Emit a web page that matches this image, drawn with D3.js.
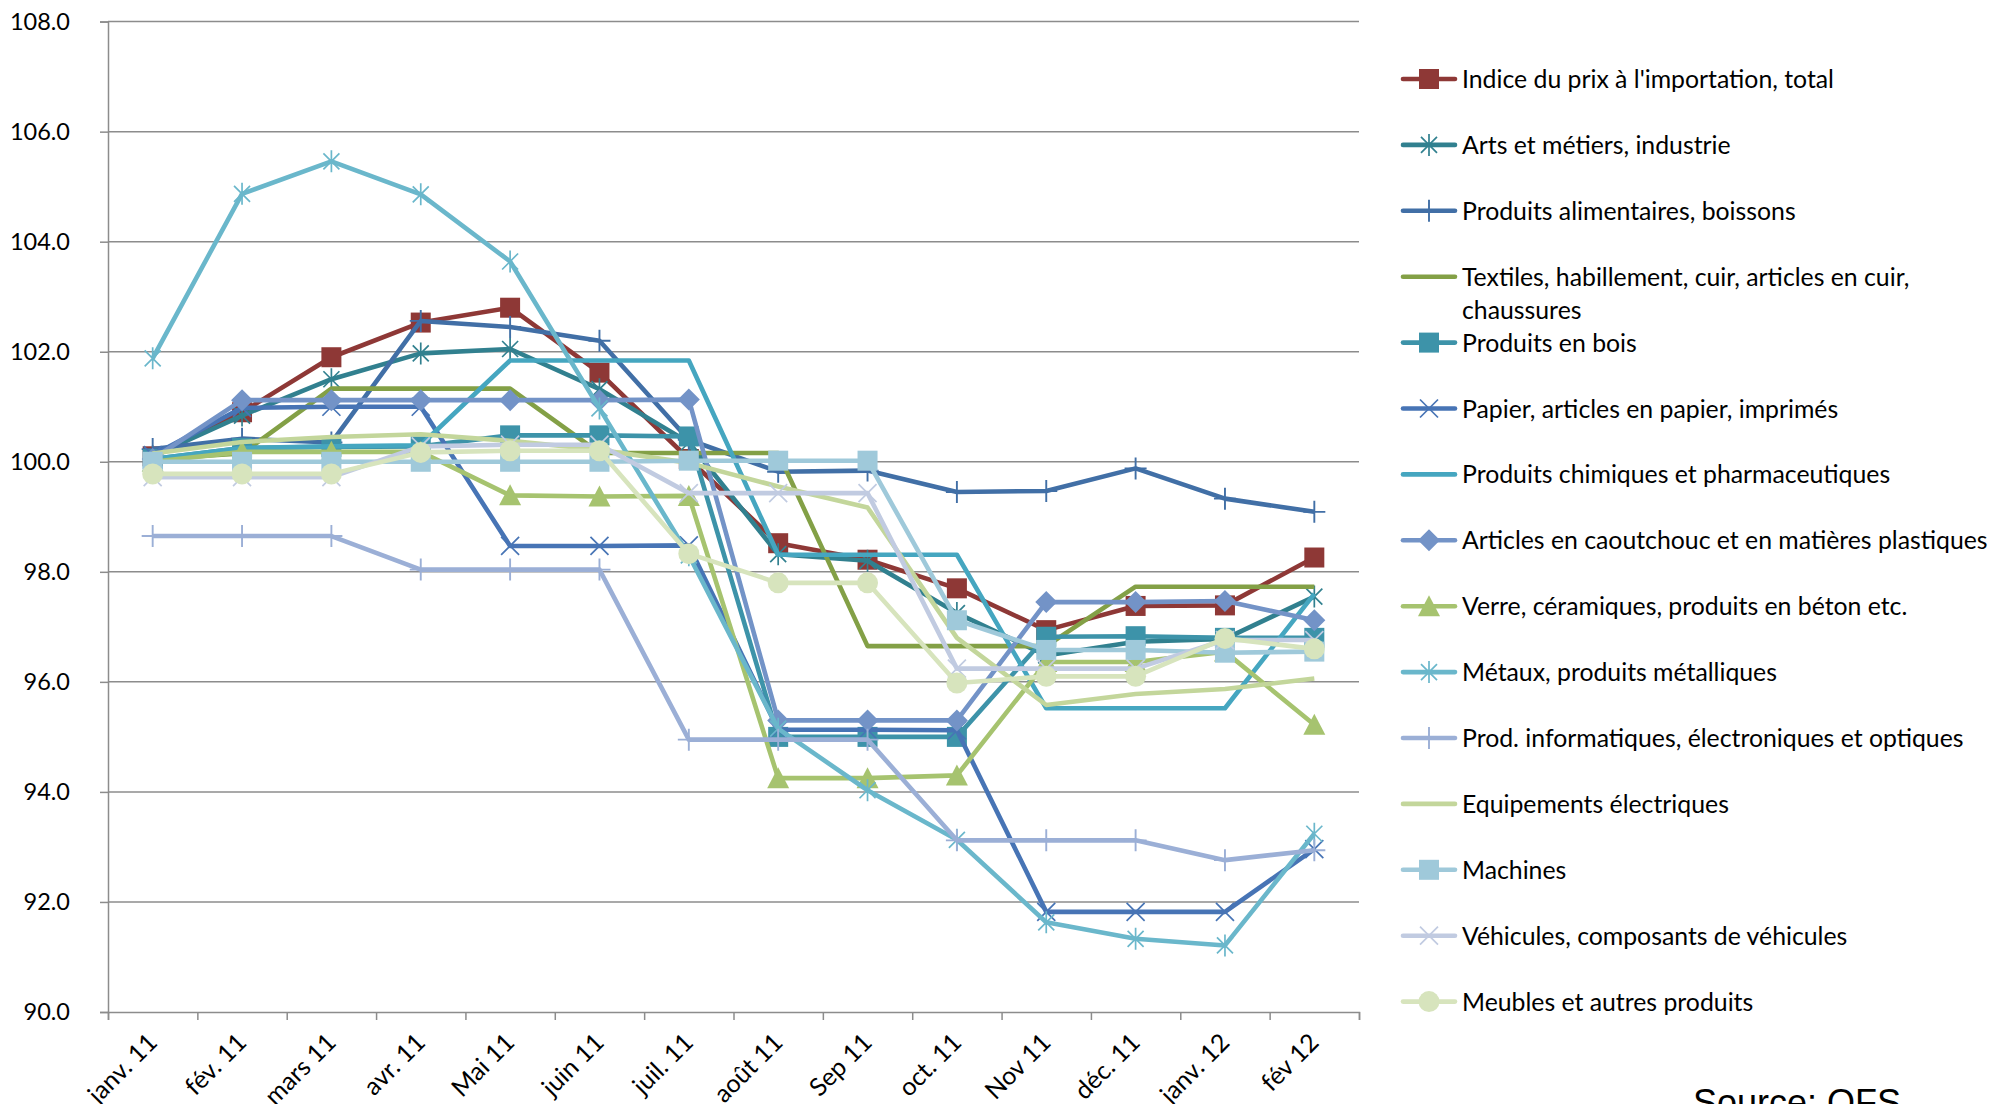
<!DOCTYPE html>
<html>

<head>
    <title>Indice du prix à l'importation</title>
    <style>
        * {
            margin: 0;
            padding: 0;
        }

        body {
            background-color: #fff;
        }

        #root {
            width: 1991px;
            height: 1104px;
            overflow: hidden;
        }

        .axis text, .legend text {
            font-family: Lato, "Noto Sans", sans-serif;
            fill: #000;
        }
    </style>
    <script src="https://cdn.jsdelivr.net/npm/d3@7/dist/d3.min.js" type="text/javascript"></script>
</head>

<body>
    <div id="root"></div>

    <script>
        var months = ["janv. 11", "fév. 11", "mars 11", "avr. 11", "Mai 11", "juin 11", "juil. 11",
            "août 11", "Sep 11", "oct. 11", "Nov 11", "déc. 11", "janv. 12", "fév 12"];

        var yTicks = [90, 92, 94, 96, 98, 100, 102, 104, 106, 108];

        var seriesNames = [
            "Indice du prix à l'importation, total",
            "Arts et métiers, industrie",
            "Produits alimentaires, boissons",
            "Textiles, habillement, cuir, articles en cuir, chaussures",
            "Produits en bois",
            "Papier, articles en papier, imprimés",
            "Produits chimiques et pharmaceutiques",
            "Articles en caoutchouc et en matières plastiques",
            "Verre, céramiques, produits en béton etc.",
            "Métaux, produits métalliques",
            "Prod. informatiques, électroniques et optiques",
            "Equipements électriques",
            "Machines",
            "Véhicules, composants de véhicules",
            "Meubles et autres produits"
        ];

        var indice = [100.1, 100.9, 101.9, 102.53, 102.8, 101.62, 100.05, 98.52, 98.22, 97.7, 96.94, 97.38, 97.39, 98.26];
        var arts = [100.1, 100.84, 101.5, 101.97, 102.05, 101.32, 100.35, 98.32, 98.2, 97.25, 96.48, 96.73, 96.78, 97.55];
        var alimentaires = [100.23, 100.42, 100.35, 102.56, 102.45, 102.2, 100.4, 99.82, 99.84, 99.45, 99.47, 99.88, 99.33, 99.09];
        var textiles = [100.05, 100.15, 101.33, 101.33, 101.33, 100.16, 100.16, 100.16, 96.65, 96.65, 96.65, 97.73, 97.73, 97.73];
        var bois = [100.05, 100.25, 100.27, 100.28, 100.48, 100.48, 100.46, 95.0, 95.0, 95.0, 96.82, 96.83, 96.8, 96.8];
        var papier = [100.12, 100.98, 101.0, 101.0, 98.47, 98.47, 98.48, 95.13, 95.13, 95.12, 91.82, 91.82, 91.82, 92.96];
        var chimiques = [100.05, 100.25, 100.28, 100.3, 101.84, 101.84, 101.84, 98.31, 98.31, 98.31, 95.52, 95.52, 95.52, 97.6];
        var caoutchouc = [100.05, 101.12, 101.12, 101.12, 101.12, 101.12, 101.13, 95.3, 95.3, 95.3, 97.45, 97.45, 97.47, 97.12];
        var verre = [100.0, 100.18, 100.18, 100.18, 99.39, 99.37, 99.38, 94.25, 94.25, 94.3, 96.36, 96.36, 96.55, 95.22];
        var metaux = [101.88, 104.87, 105.46, 104.86, 103.64, 100.97, 98.3, 95.15, 94.03, 93.13, 91.63, 91.33, 91.21, 93.24];
        var prodInfo = [98.65, 98.65, 98.65, 98.04, 98.04, 98.04, 94.95, 94.95, 94.95, 93.12, 93.12, 93.12, 92.76, 92.94];
        var equipements = [100.15, 100.36, 100.45, 100.5, 100.38, 100.22, 99.98, 99.55, 99.17, 96.8, 95.58, 95.78, 95.87, 96.06];
        var machines = [100.0, 100.0, 100.0, 100.0, 100.0, 100.0, 100.02, 100.02, 100.02, 97.12, 96.58, 96.58, 96.53, 96.55];
        var vehicules = [99.72, 99.72, 99.72, 100.28, 100.31, 100.31, 99.43, 99.43, 99.43, 96.24, 96.24, 96.24, 96.76, 96.76];
        var meubles = [99.78, 99.78, 99.78, 100.17, 100.2, 100.2, 98.33, 97.8, 97.8, 95.98, 96.1, 96.1, 96.79, 96.6];

        var seriesValues = [indice, arts, alimentaires, textiles, bois, papier, chimiques, caoutchouc,
            verre, metaux, prodInfo, equipements, machines, vehicules, meubles];

        var colors = ["#8e3836", "#31808f", "#416fa6", "#83a046", "#3d93a9", "#4774b5", "#45a6c0", "#7393c7",
            "#a6c36f", "#6ab7cb", "#9bafd6", "#c3d69b", "#9fc9da", "#c1cbe1", "#d7e4bd"];

        var markers = ["square", "asterisk", "plus", "none", "square", "cross", "none", "diamond",
            "triangle", "asterisk", "plus", "none", "square", "cross", "circle"];

        render("#root");

        function render(root) {
            var width = 1991;
            var height = 1104;
            var left = 108, right = 1359, top = 21.6, bottom = 1012;

            var svg = d3.select(root).append("svg").attr("width", width).attr("height", height);

            var x = d3.scalePoint().domain(months).range([left, right]).padding(0.5);
            var xEdge = d3.scaleLinear().domain([0, months.length]).range([left, right]);
            var y = d3.scaleLinear().domain([90, 108]).range([bottom, top]);

            // grid lines
            svg.append("g").selectAll("line").data(yTicks.slice(1)).enter()
                .append("line")
                .attr("x1", left).attr("x2", right)
                .attr("y1", function (d) { return y(d); })
                .attr("y2", function (d) { return y(d); })
                .attr("stroke", "#8c8c8c")
                .attr("stroke-width", 1.5);

            function renderYAxis() {
                var yAxis = d3.axisLeft(y).tickValues(yTicks).tickSize(8).tickPadding(30)
                    .tickFormat(d3.format(".1f"));
                var g = svg.append("g").attr("class", "axis y-axis")
                    .attr("transform", "translate(" + left + ",0)").call(yAxis);
                g.select(".domain").attr("stroke", "#8c8c8c").attr("stroke-width", 1.5);
                g.selectAll(".tick line").attr("stroke", "#8c8c8c").attr("stroke-width", 1.5);
                g.selectAll(".tick text").attr("font-size", 23.5);
            }

            function renderXAxis() {
                var xAxis = d3.axisBottom(xEdge).tickValues(d3.range(months.length + 1))
                    .tickSize(8).tickFormat("");
                var g = svg.append("g").attr("class", "axis x-axis")
                    .attr("transform", "translate(0," + bottom + ")").call(xAxis);
                g.select(".domain").attr("stroke", "#8c8c8c").attr("stroke-width", 1.5);
                g.selectAll(".tick line").attr("stroke", "#8c8c8c").attr("stroke-width", 1.5);

                svg.append("g").attr("class", "axis x-labels").selectAll("text").data(months).enter()
                    .append("text")
                    .attr("transform", function (d) {
                        return "translate(" + (x(d) + 6) + "," + (bottom + 32) + ") rotate(-45)";
                    })
                    .attr("text-anchor", "end")
                    .attr("font-size", 25)
                    .text(function (d) { return d; });
            }

            renderYAxis();
            renderXAxis();

            var line = d3.line()
                .x(function (d, i) { return x(months[i]); })
                .y(function (d) { return y(d); });

            seriesValues.forEach(function (values, k) {
                var g = svg.append("g").attr("class", "series");
                g.append("path")
                    .attr("d", line(values))
                    .attr("fill", "none")
                    .attr("stroke", colors[k])
                    .attr("stroke-width", 4.6)
                    .attr("stroke-linejoin", "round");
                values.forEach(function (v, i) {
                    drawMarker(g, markers[k], colors[k], x(months[i]), y(v));
                });
            });

            function renderLegend() {
                var lx = 1403, tx = 1462, ly = 79, step = 65.9;
                var g = svg.append("g").attr("class", "legend");
                seriesNames.forEach(function (name, k) {
                    var cy = ly + k * step;
                    g.append("line")
                        .attr("x1", lx).attr("x2", lx + 52)
                        .attr("y1", cy).attr("y2", cy)
                        .attr("stroke", colors[k])
                        .attr("stroke-width", 4.6)
                        .attr("stroke-linecap", "round");
                    drawMarker(g, markers[k], colors[k], lx + 26, cy);
                    var t = g.append("text").attr("x", tx).attr("y", cy + 9).attr("font-size", 24.8);
                    if (k === 3) {
                        t.append("tspan").attr("x", tx).text("Textiles, habillement, cuir, articles en cuir,");
                        t.append("tspan").attr("x", tx).attr("dy", 33).text("chaussures");
                    } else {
                        t.text(name);
                    }
                });
            }

            renderLegend();

            svg.append("text")
                .attr("x", 1693).attr("y", 1115)
                .attr("font-family", "'Liberation Sans', Arial, sans-serif")
                .attr("font-size", 36)
                .attr("fill", "#000")
                .text("Source: OFS");
        }

        function drawMarker(g, type, color, cx, cy) {
            var m = g.append("g").attr("transform", "translate(" + cx + "," + cy + ")");
            if (type === "square") {
                m.append("rect").attr("x", -10).attr("y", -10).attr("width", 20).attr("height", 20)
                    .attr("fill", color);
            } else if (type === "diamond") {
                m.append("path").attr("d", "M0,-11L11,0L0,11L-11,0Z").attr("fill", color);
            } else if (type === "triangle") {
                m.append("path").attr("d", "M0,-11L11,10L-11,10Z").attr("fill", color);
            } else if (type === "circle") {
                m.append("circle").attr("r", 10.5).attr("fill", color);
            } else if (type === "cross") {
                m.append("path").attr("d", "M-9,-9L9,9M-9,9L9,-9")
                    .attr("stroke", color).attr("stroke-width", 1.7).attr("fill", "none");
            } else if (type === "asterisk") {
                m.append("path").attr("d", "M-8,-8L8,8M-8,8L8,-8M0,-11L0,11")
                    .attr("stroke", color).attr("stroke-width", 1.7).attr("fill", "none");
            } else if (type === "plus") {
                m.append("path").attr("d", "M0,-11L0,11M-11,0L11,0")
                    .attr("stroke", color).attr("stroke-width", 1.9).attr("fill", "none");
            }
        }
    </script>
</body>

</html>
